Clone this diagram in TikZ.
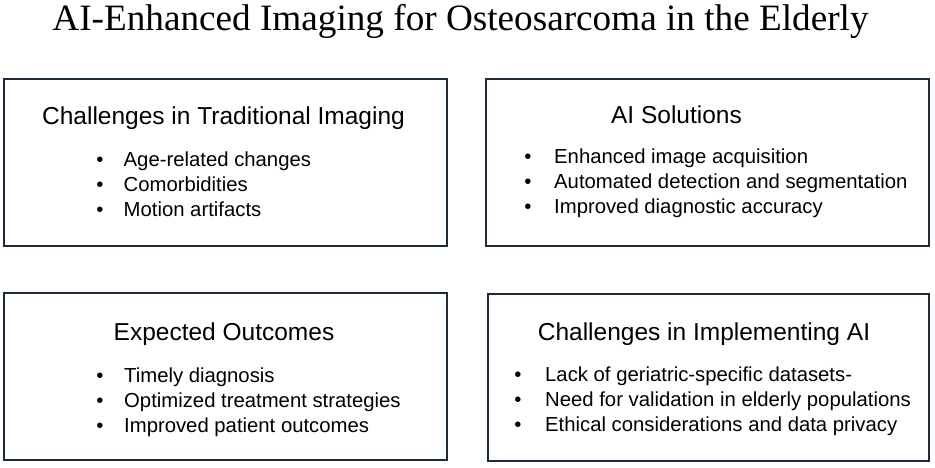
\documentclass[tikz,border=0pt]{standalone}
\usepackage{fontspec}
\setmainfont{Liberation Serif}
\setsansfont{Liberation Sans}
\usetikzlibrary{positioning}
\definecolor{boxline}{HTML}{1C2B3B}

\begin{document}
\begin{tikzpicture}[x=1pt,y=-1pt,
		panel/.style={draw=boxline, line width=1.6pt, minimum width=443pt, minimum height=167pt, inner sep=0pt},
		heading/.style={anchor=base, inner sep=0pt, font=\sffamily\fontsize{24.5}{29}\selectfont},
		item/.style={anchor=base west, inner sep=0pt, font=\sffamily\fontsize{20.3}{24}\selectfont},
		dot/.style={anchor=base, inner sep=0pt, font=\sffamily\fontsize{20.3}{24}\selectfont}]
				\useasboundingbox (0,0) rectangle (935,467);
				
				% Titolo generale
				\node[anchor=base, inner sep=0pt, font=\rmfamily\fontsize{37.2}{44}\selectfont] (title) at (460.5, 30) {AI-Enhanced Imaging for Osteosarcoma in the Elderly};
				
				% Riquadri
				\node[panel] (tradbox) at (225.5, 162.5) {};
				\node[panel] (aibox) at (707.5, 162.5) {};
				\node[panel] (outbox) at (225.5, 376.5) {};
				\node[panel, minimum width=441pt] (implbox) at (708.5, 377.5) {};
				
				% Imaging tradizionale
				\node[heading] (tradhead) at (223.5, 124) {Challenges in Traditional Imaging};
				\node[dot] (tradd1) at (100, 166) {•};
				\node[dot] (tradd2) at (100, 191) {•};
				\node[dot] (tradd3) at (100, 216) {•};
				\node[item] (tradi1) at (123.5, 166) {Age-related changes};
				\node[item] (tradi2) at (123.5, 191) {Comorbidities};
				\node[item] (tradi3) at (123.5, 216) {Motion artifacts};
				
				% Soluzioni AI
				\node[heading] (aihead) at (676.5, 123) {AI Solutions};
				\node[dot] (aid1) at (528, 163) {•};
				\node[dot] (aid2) at (528, 188) {•};
				\node[dot] (aid3) at (528, 213) {•};
				\node[item] (aii1) at (554, 163) {Enhanced image acquisition};
				\node[item] (aii2) at (554, 188) {Automated detection and segmentation};
				\node[item] (aii3) at (554, 213) {Improved diagnostic accuracy};
				
				% Risultati attesi
				\node[heading] (outhead) at (224, 340) {Expected Outcomes};
				\node[dot] (outd1) at (100, 382) {•};
				\node[dot] (outd2) at (100, 407) {•};
				\node[dot] (outd3) at (100, 432) {•};
				\node[item] (outi1) at (124, 382) {Timely diagnosis};
				\node[item] (outi2) at (124, 407) {Optimized treatment strategies};
				\node[item] (outi3) at (124, 432) {Improved patient outcomes};
				
				% Implementazione AI
				\node[heading] (implhead) at (704, 340) {Challenges in Implementing AI};
				\node[dot] (impld1) at (518, 381) {•};
				\node[dot] (impld2) at (518, 406) {•};
				\node[dot] (impld3) at (518, 431) {•};
				\node[item] (impli1) at (545, 381) {Lack of geriatric-specific datasets-};
				\node[item] (impli2) at (545, 406) {Need for validation in elderly populations};
				\node[item] (impli3) at (545, 431) {Ethical considerations and data privacy};
			\end{tikzpicture}
\end{document}
